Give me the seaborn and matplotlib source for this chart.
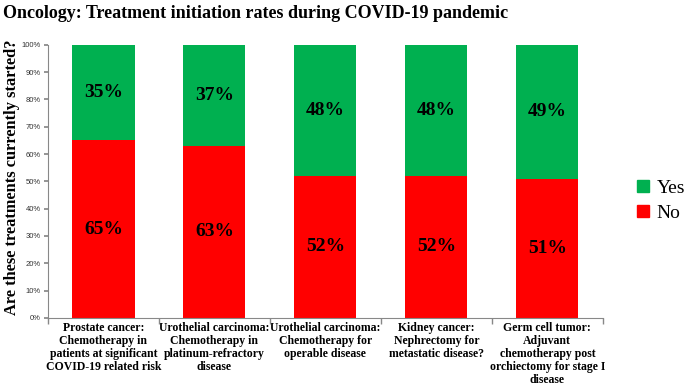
"""Treatment initiation rates during COVID-19 pandemic (stacked Yes/No bars)."""

import matplotlib
matplotlib.use("Agg")
import matplotlib.pyplot as plt
from matplotlib.ticker import PercentFormatter, FixedLocator
from matplotlib.patches import Patch
import pandas as pd
import seaborn as sns

CATEGORIES = [
    "Prostate cancer:\nChemotherapy in\npatients at significant\nCOVID-19 related risk",
    "Urothelial carcinoma:\nChemotherapy in\nplatinum-refractory\ndisease",
    "Urothelial carcinoma:\nChemotherapy for\noperable disease",
    "Kidney cancer:\nNephrectomy for\nmetastatic disease?",
    "Germ cell tumor:\nAdjuvant\nchemotherapy post\norchiectomy for stage I\ndisease",
]
YES = [35, 37, 48, 48, 49]
NO = [65, 63, 52, 52, 51]

GREEN = "#00B050"
RED = "#FF0000"
SERIF = ["Liberation Serif", "DejaVu Serif"]

sns.set_theme(style="white", rc={"text.color": "black"})
plt.rcParams["font.family"] = ["Liberation Sans", "DejaVu Sans"]

df = pd.DataFrame({"category": CATEGORIES, "yes": YES, "no": NO})
df["total"] = df["yes"] + df["no"]

fig = plt.figure(figsize=(6.85, 3.9), dpi=100)
ax = fig.add_axes([0.070, 0.185, 0.810, 0.700])

sns.barplot(data=df, x="category", y="total", color=GREEN, width=0.56,
            saturation=1, linewidth=0, ax=ax)
sns.barplot(data=df, x="category", y="no", color=RED, width=0.56,
            saturation=1, linewidth=0, ax=ax)

for i, row in df.iterrows():
    ax.text(i, row["no"] + row["yes"] / 2, f"{row['yes']}%", ha="center",
            va="center", fontsize=14, fontweight="bold", family=SERIF, color="black")
    ax.text(i, row["no"] / 2, f"{row['no']}%", ha="center", va="center",
            fontsize=14, fontweight="bold", family=SERIF, color="black")

ax.set_xlim(-0.5, len(CATEGORIES) - 0.5)
ax.set_ylim(0, 100)
ax.set_yticks(range(0, 101, 10))
ax.yaxis.set_major_formatter(PercentFormatter(decimals=0))
ax.tick_params(axis="y", labelsize=5.5, length=3, color="#888888",
               left=True, pad=2, labelcolor="#333333")
ax.tick_params(axis="x", which="major", length=0, pad=3, labelcolor="black")
ax.xaxis.set_minor_locator(FixedLocator([i - 0.5 for i in range(len(CATEGORIES) + 1)]))
ax.tick_params(axis="x", which="minor", length=4, color="#888888", bottom=True)
ax.set_xticklabels(CATEGORIES, fontsize=8.5, fontweight="bold", family=SERIF,
                   linespacing=1.1, va="top")
for side in ["top", "right"]:
    ax.spines[side].set_visible(False)
for side in ["left", "bottom"]:
    ax.spines[side].set_color("#888888")
    ax.spines[side].set_linewidth(0.8)

ax.set_xlabel("")
ax.set_ylabel("")
fig.text(0.018, 0.545, "Are these treatments currently started?", fontsize=11.8,
         fontweight="bold", family=SERIF, rotation=90, ha="center", va="center")

handles = [Patch(color=GREEN, label="Yes"), Patch(color=RED, label="No")]
fig.legend(handles=handles, loc="center left", bbox_to_anchor=(0.905, 0.485),
           frameon=False, prop={"family": SERIF, "size": 14},
           handlelength=0.6, handleheight=0.6, handletextpad=0.4,
           labelspacing=0.4)

fig.text(0.005, 0.965, "Oncology: Treatment initiation rates during COVID-19 pandemic",
         fontsize=13, fontweight="bold", family=SERIF, ha="left", va="center")

fig.savefig("out.png", dpi=100)
